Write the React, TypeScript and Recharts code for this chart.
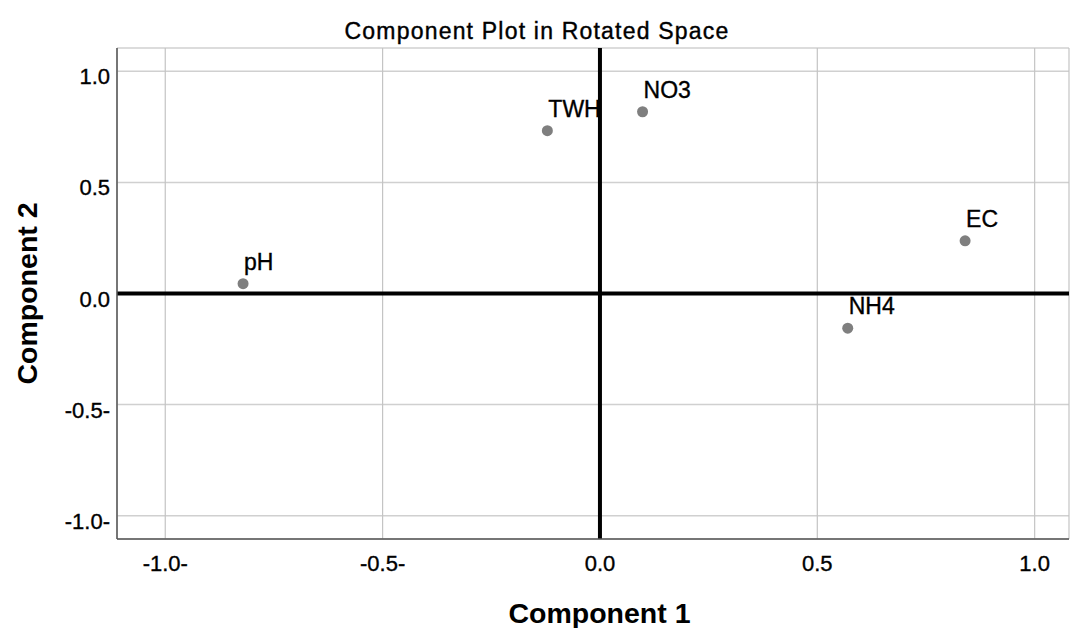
import { ScatterChart, Scatter, XAxis, YAxis, CartesianGrid, ReferenceLine } from 'recharts';

const variableNames = ['pH', 'TWH', 'NO3', 'NH4', 'EC'];
const component1 = [-0.821, -0.121, 0.098, 0.57, 0.84];
const component2 = [0.044, 0.733, 0.818, -0.156, 0.237];
const xTicks = [-1.0, -0.5, 0.0, 0.5, 1.0];
const yTicks = [-1.0, -0.5, 0.0, 0.5, 1.0];

const FONT = '"Liberation Sans", Arial, sans-serif';

const fmt = (v: number) => v.toFixed(1) + (v < 0 ? '-' : '');

const XTick = (props: any) => {
  const { x, y, payload } = props;
  return (
    <text x={x} y={y + 32} textAnchor="middle" fontSize={22} fontFamily={FONT} fill="#000" stroke="#000" strokeWidth={0.35}>
      {fmt(payload.value)}
    </text>
  );
};

const YTick = (props: any) => {
  const { x, y, payload } = props;
  return (
    <text x={x - 7} y={y + 13} textAnchor="end" fontSize={22} fontFamily={FONT} fill="#000" stroke="#000" strokeWidth={0.35}>
      {fmt(payload.value)}
    </text>
  );
};

const PointShape = (props: any) => {
  const { cx, cy, payload } = props;
  return (
    <g>
      <circle cx={cx} cy={cy} r={5.5} fill="#7f7f7f" />
      <text x={cx + 1} y={cy - 14} fontSize={23} fontFamily={FONT} fill="#000" stroke="#000" strokeWidth={0.35}>
        {payload.name}
      </text>
    </g>
  );
};

export default function App() {
  const data = variableNames.map((name, i) => ({ name, x: component1[i], y: component2[i] }));

  return (
    <div style={{ position: 'absolute', left: 0, top: 0, width: 1071, height: 628, background: '#fff' }}>
      <ScatterChart width={1071} height={628} margin={{ top: 48, right: 2, bottom: 0, left: 37 }}>
        <CartesianGrid horizontal={true} vertical={false} stroke="#d0d0d0" strokeWidth={1.5} />
        <CartesianGrid horizontal={false} vertical={true} stroke="#c4c4c4" strokeWidth={1.2} />
        <XAxis
          type="number"
          dataKey="x"
          domain={[-1.111, 1.079]}
          ticks={xTicks}
          interval={0}
          allowDataOverflow
          height={89}
          tickSize={0}
          tickMargin={0}
          tickLine={false}
          tick={<XTick />}
          axisLine={{ stroke: '#555', strokeWidth: 1.5 }}
          label={(p: any) => {
            const vb = p.viewBox;
            return (
              <text x={599.5} y={vb.y + vb.height - 5} textAnchor="middle" fontSize={28.5} fontWeight="bold" fontFamily={FONT} fill="#000">
                Component 1
              </text>
            );
          }}
        />
        <YAxis
          type="number"
          dataKey="y"
          domain={[-1.105, 1.105]}
          ticks={yTicks}
          interval={0}
          allowDataOverflow
          width={80}
          tickSize={0}
          tickMargin={0}
          tickLine={false}
          tick={<YTick />}
          axisLine={{ stroke: '#555', strokeWidth: 1.5 }}
          label={(p: any) => {
            const vb = p.viewBox;
            const cy = vb.y + vb.height / 2;
            return (
              <text x={37} y={cy} transform={`rotate(-90, 37, ${cy})`} textAnchor="middle" fontSize={28.5} fontWeight="bold" fontFamily={FONT} fill="#000">
                Component 2
              </text>
            );
          }}
        />
        <ReferenceLine x={0} stroke="#000" strokeWidth={4} />
        <ReferenceLine y={0} stroke="#000" strokeWidth={4} />
        <Scatter data={data} shape={<PointShape />} isAnimationActive={false} />
      </ScatterChart>
      <svg width={1071} height={50} style={{ position: 'absolute', left: 0, top: 0, pointerEvents: 'none' }}>
        <text x={537} y={39} textAnchor="middle" fontSize={23} letterSpacing={1.2} fontFamily={FONT} fill="#000" stroke="#000" strokeWidth={0.4}>
          Component Plot in Rotated Space
        </text>
      </svg>
    </div>
  );
}
